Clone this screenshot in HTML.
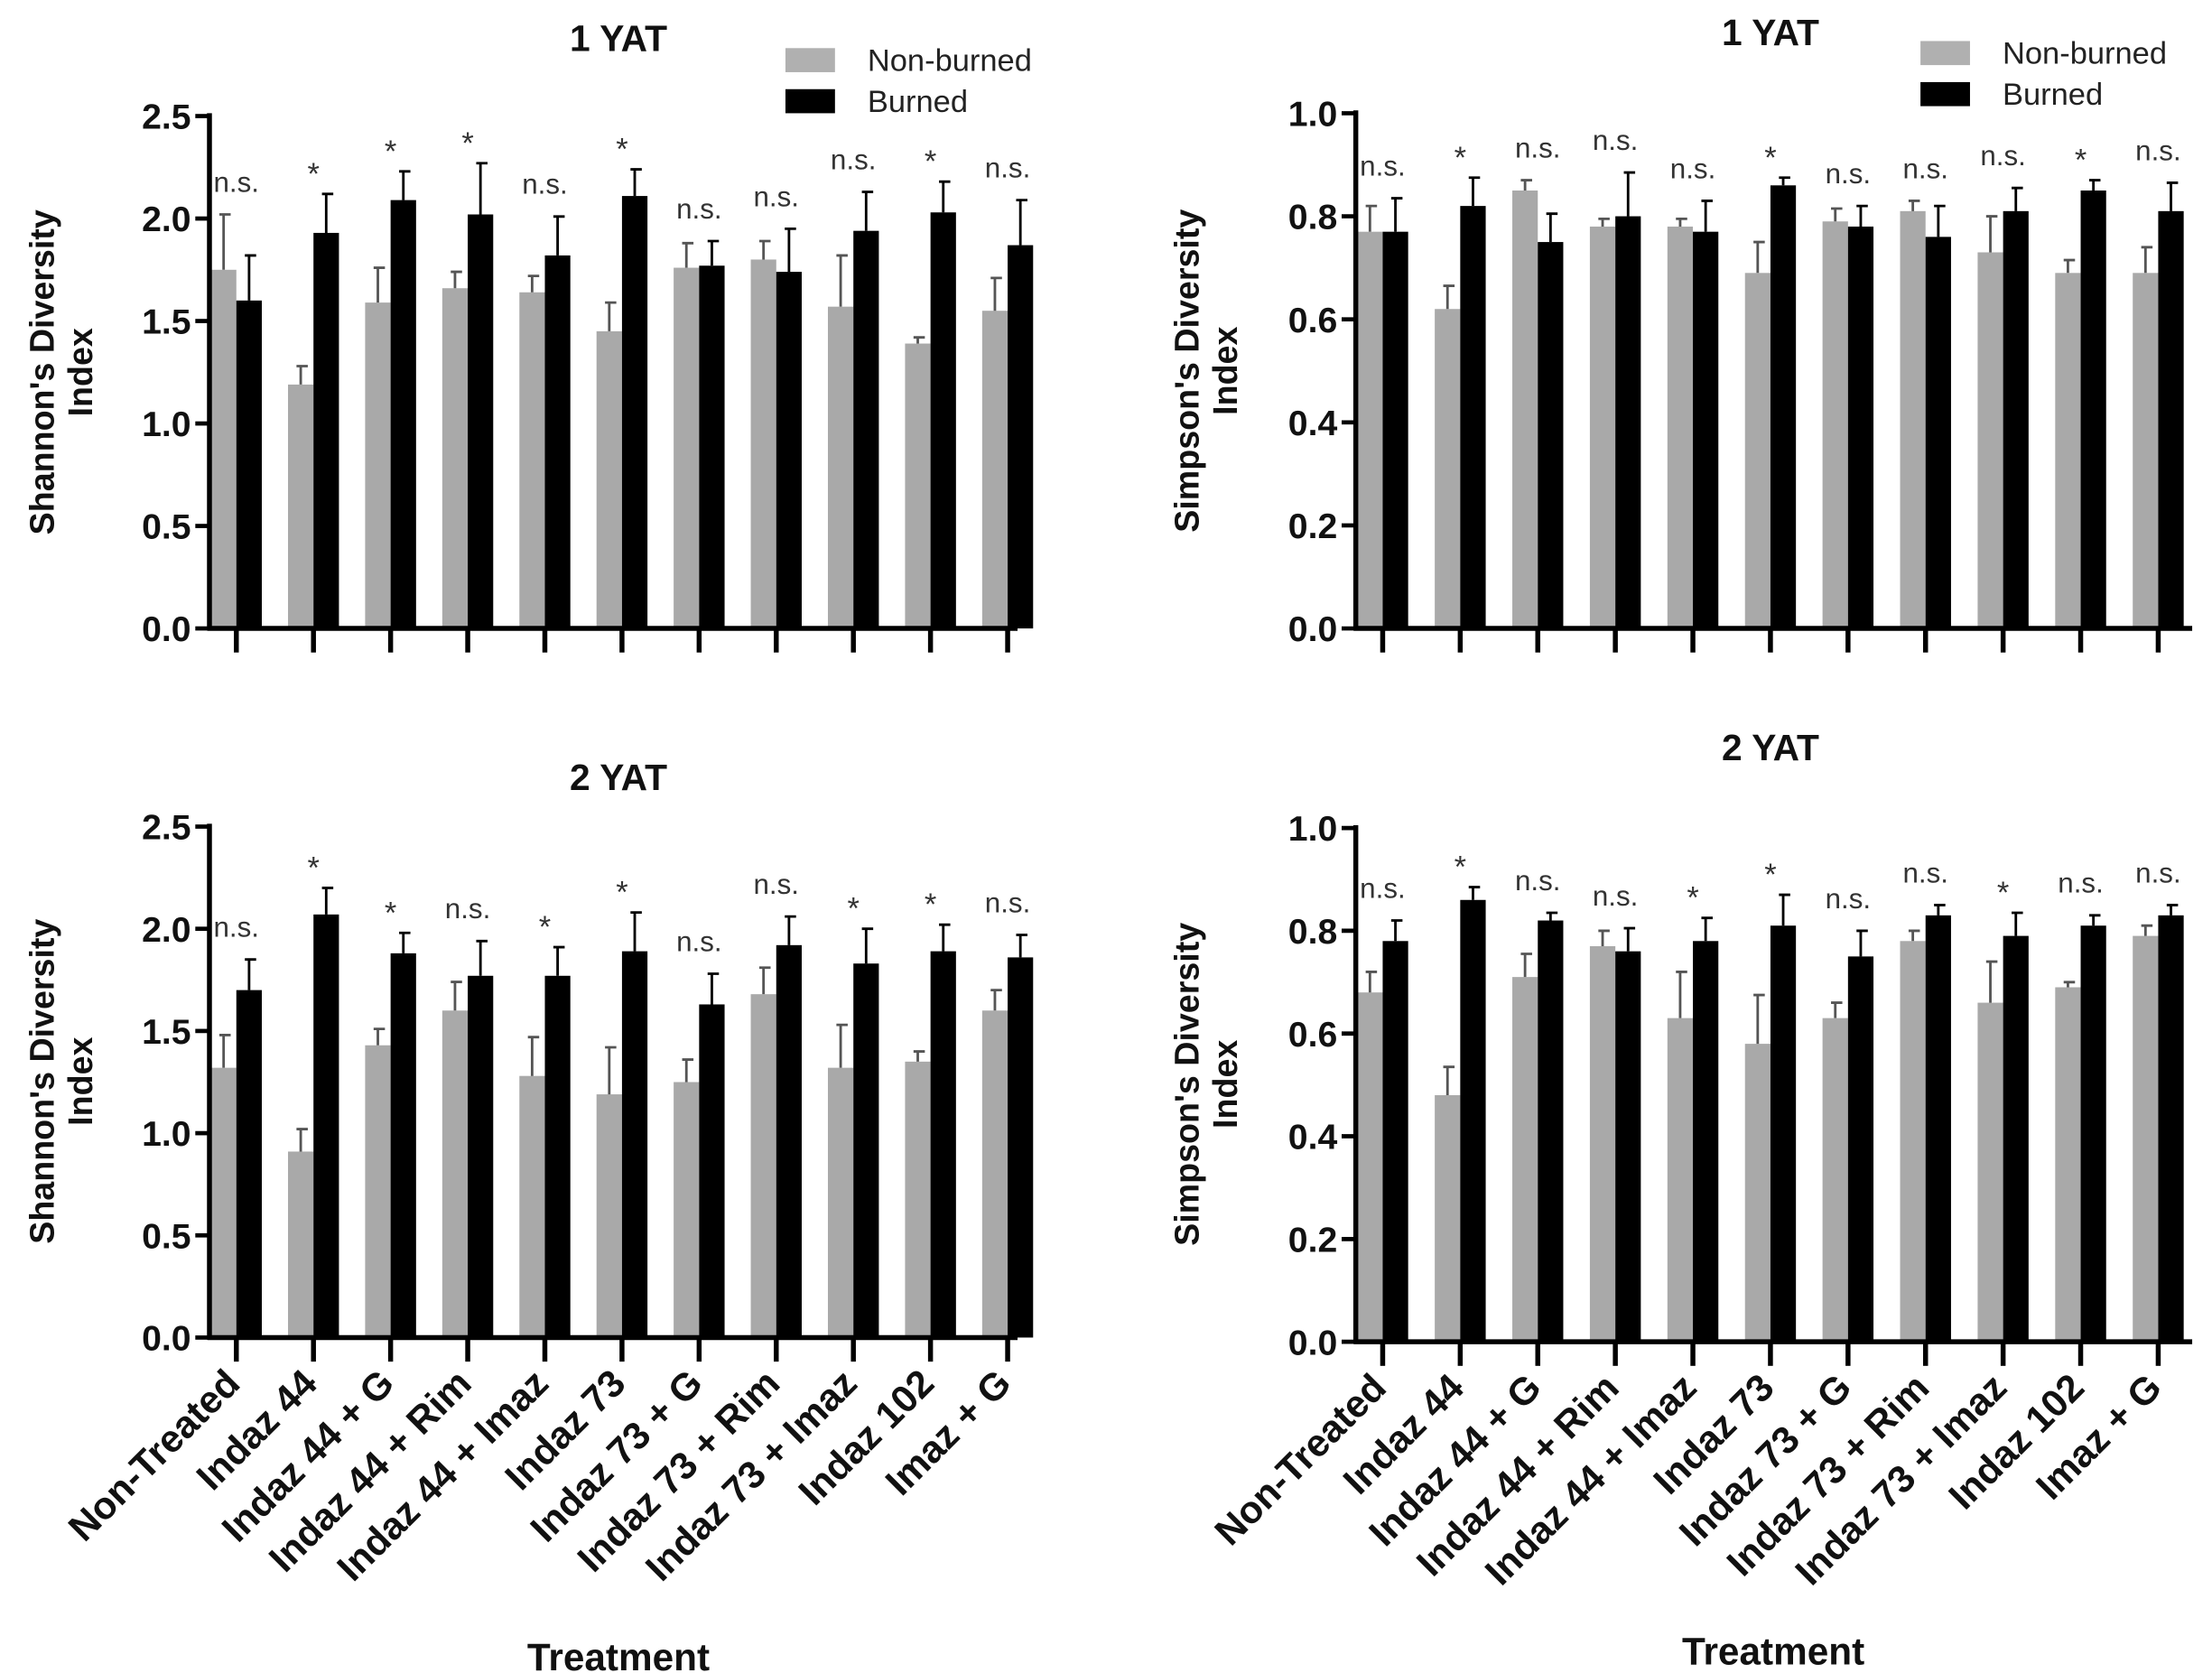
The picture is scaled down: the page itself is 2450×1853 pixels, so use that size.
<!DOCTYPE html>
<html><head><meta charset="utf-8">
<style>
html,body{margin:0;padding:0;background:#fff;}
svg{display:block;}
text{font-family:"Liberation Sans",sans-serif;}
</style></head>
<body>
<svg id="fig" width="2450" height="1853" viewBox="0 0 1563 1182" preserveAspectRatio="none" xmlns="http://www.w3.org/2000/svg"></svg>
<script>
const categories = ["Non-Treated","Indaz 44","Indaz 44 + G","Indaz 44 + Rim","Indaz 44 + Imaz","Indaz 73","Indaz 73 + G","Indaz 73 + Rim","Indaz 73 + Imaz","Indaz 102","Imaz + G"];

const shannon1Non = [1.75,1.19,1.59,1.66,1.64,1.45,1.76,1.80,1.57,1.39,1.55];
const shannon1NonErr = [2.02,1.28,1.76,1.74,1.72,1.59,1.88,1.89,1.82,1.42,1.71];
const shannon1Burn = [1.60,1.93,2.09,2.02,1.82,2.11,1.77,1.74,1.94,2.03,1.87];
const shannon1BurnErr = [1.82,2.12,2.23,2.27,2.01,2.24,1.89,1.95,2.13,2.18,2.09];
const shannon1Sig = ["n.s.","*","*","*","n.s.","*","n.s.","n.s.","n.s.","*","n.s."];

const simpson1Non = [0.77,0.62,0.85,0.78,0.78,0.69,0.79,0.81,0.73,0.69,0.69];
const simpson1NonErr = [0.82,0.665,0.87,0.795,0.795,0.75,0.815,0.83,0.80,0.715,0.74];
const simpson1Burn = [0.77,0.82,0.75,0.80,0.77,0.86,0.78,0.76,0.81,0.85,0.81];
const simpson1BurnErr = [0.835,0.875,0.805,0.885,0.83,0.875,0.82,0.82,0.855,0.87,0.865];
const simpson1Sig = ["n.s.","*","n.s.","n.s.","n.s.","*","n.s.","n.s.","n.s.","*","n.s."];

const shannon2Non = [1.32,0.91,1.43,1.60,1.28,1.19,1.25,1.68,1.32,1.35,1.60];
const shannon2NonErr = [1.48,1.02,1.51,1.74,1.47,1.42,1.36,1.81,1.53,1.40,1.70];
const shannon2Burn = [1.70,2.07,1.88,1.77,1.77,1.89,1.63,1.92,1.83,1.89,1.86];
const shannon2BurnErr = [1.85,2.20,1.98,1.94,1.91,2.08,1.78,2.06,2.00,2.02,1.97];
const shannon2Sig = ["n.s.","*","*","n.s.","*","*","n.s.","n.s.","*","*","n.s."];

const simpson2Non = [0.68,0.48,0.71,0.77,0.63,0.58,0.63,0.78,0.66,0.69,0.79];
const simpson2NonErr = [0.72,0.535,0.755,0.80,0.72,0.675,0.66,0.80,0.74,0.70,0.81];
const simpson2Burn = [0.78,0.86,0.82,0.76,0.78,0.81,0.75,0.83,0.79,0.81,0.83];
const simpson2BurnErr = [0.82,0.885,0.835,0.805,0.825,0.87,0.80,0.85,0.835,0.83,0.85];
const simpson2Sig = ["n.s.","*","n.s.","n.s.","*","*","n.s.","n.s.","*","n.s.","n.s."];

const shannonTicks = ["0.0","0.5","1.0","1.5","2.0","2.5"];
const simpsonTicks = ["0.0","0.2","0.4","0.6","0.8","1.0"];

const NS = "http://www.w3.org/2000/svg";
const svg = document.getElementById('fig');
function mk(tag, attrs, parent, txt){
  const e = document.createElementNS(NS, tag);
  for (const k in attrs) e.setAttribute(k, attrs[k]);
  if (txt !== undefined) e.textContent = txt;
  (parent||svg).appendChild(e);
  return e;
}

function panel(cfg){
  const g = mk('g', {});
  
  
  const ticks = cfg.ticks;
  const maxV = parseFloat(ticks[ticks.length-1]);
  const y = v => cfg.y0 - (v/maxV)*(cfg.y0-cfg.yTop);
  const xc = i => cfg.x0 + i*cfg.dx;
  const bw = 18;
  for (let i=0;i<categories.length;i++){
    const r1 = mk('rect',{x:xc(i)-bw,y:y(cfg.non[i]),width:bw,height:cfg.y0-y(cfg.non[i]),fill:'#a9a9a9'},g);
    
    
    const r2 = mk('rect',{x:xc(i),y:y(cfg.burn[i]),width:bw,height:cfg.y0-y(cfg.burn[i]),fill:'#000'},g);
    
    
    const pairs = [[xc(i)-bw/2,cfg.non[i],cfg.nonErr[i],'#555'],[xc(i)+bw/2,cfg.burn[i],cfg.burnErr[i],'#000']];
    for (const [cx,v,e,col] of pairs){
      const l = mk('path',{d:`M${cx} ${y(v)}V${y(e)}M${cx-3} ${y(e)}H${cx+5}`,stroke:col,'stroke-width':1.8,fill:'none'},g);
      
      
    }
    const top = Math.max(cfg.nonErr[i],cfg.burnErr[i]);
    const isStar = cfg.sig[i]==='*';
    const t = mk('text',{x:xc(i),y:y(top)-(isStar?14:16),'text-anchor':'middle','font-size':isStar?22:20,fill:'#333'},g,cfg.sig[i]);
    if(isStar) t.setAttribute('dy','7');
    
    
    mk('line',{x1:xc(i),y1:cfg.y0,x2:xc(i),y2:cfg.y0+17,stroke:'#000','stroke-width':3.5},g);
    if (cfg.xlabels){
      const lt = mk('text',{x:0,y:0,transform:`translate(${xc(i)+4},${cfg.y0+34}) rotate(-45)`,'text-anchor':'end','font-size':27,'font-weight':'bold',fill:'#111'},g,categories[i]);
      
      
    }
  }
  mk('line',{x1:cfg.axX,y1:cfg.yTop-2,x2:cfg.axX,y2:cfg.y0+1.5,stroke:'#000','stroke-width':3.5},g);
  mk('line',{x1:cfg.axX-1.5,y1:cfg.y0,x2:cfg.xEnd,y2:cfg.y0,stroke:'#000','stroke-width':3.5},g);
  for (const tl of ticks){
    const v = parseFloat(tl);
    mk('line',{x1:cfg.axX-10,y1:y(v),x2:cfg.axX,y2:y(v),stroke:'#000','stroke-width':3},g);
    const tt = mk('text',{x:cfg.axX-13,y:y(v)+9,'text-anchor':'end','font-size':25,'font-weight':'bold',fill:'#111'},g,tl);
    
    
  }
  const ti = mk('text',{x:cfg.titleX,y:cfg.titleY,'text-anchor':'middle','font-size':26,'font-weight':'bold',fill:'#111'},g,cfg.title);
  
  
  const yl = mk('text',{transform:`translate(${cfg.ylX},${cfg.ylY}) rotate(-90)`,'text-anchor':'middle','font-size':24,'font-weight':'bold',fill:'#111'},g);
  
  
  mk('tspan',{x:0,dy:0},yl,cfg.ylabel);
  mk('tspan',{x:0,dy:27},yl,'Index');
  if (cfg.legend){
    const lg = mk('g',{},g);
    
    
    const [lx,ly] = cfg.legend;
    mk('rect',{x:lx,y:ly-8,width:35,height:17,fill:'#b0b0b0'},lg);
    mk('text',{x:lx+58,y:ly+8,'font-size':22,fill:'#222'},lg,'Non-burned');
    mk('rect',{x:lx,y:ly+21,width:35,height:17,fill:'#000'},lg);
    mk('text',{x:lx+58,y:ly+37,'font-size':22,fill:'#222'},lg,'Burned');
  }
  if (cfg.xtitle){
    const xt = mk('text',{x:cfg.xtitle[0],y:cfg.xtitle[1],'text-anchor':'middle','font-size':27,'font-weight':'bold',fill:'#111'},g,'Treatment');
    
    
  }
}

panel({name:'shannon-1yat-chart',ticks:shannonTicks,non:shannon1Non,nonErr:shannon1NonErr,burn:shannon1Burn,burnErr:shannon1BurnErr,sig:shannon1Sig,
  axX:148,y0:444,yTop:82,x0:167,dx:54.5,xEnd:719,title:'1 YAT',titleX:437,titleY:36,ylX:38,ylY:263,ylabel:"Shannon's Diversity",legend:[555,42]});
panel({name:'simpson-1yat-chart',ticks:simpsonTicks,non:simpson1Non,nonErr:simpson1NonErr,burn:simpson1Burn,burnErr:simpson1BurnErr,sig:simpson1Sig,
  axX:958,y0:444,yTop:80,x0:977,dx:54.8,xEnd:1549,title:'1 YAT',titleX:1251,titleY:32,ylX:847,ylY:262,ylabel:"Simpson's Diversity",legend:[1357,37]});
panel({name:'shannon-2yat-chart',ticks:shannonTicks,non:shannon2Non,nonErr:shannon2NonErr,burn:shannon2Burn,burnErr:shannon2BurnErr,sig:shannon2Sig,
  axX:148,y0:945,yTop:584,x0:167,dx:54.5,xEnd:719,title:'2 YAT',titleX:437,titleY:558,ylX:38,ylY:764,ylabel:"Shannon's Diversity",xlabels:true,xtitle:[437,1180]});
panel({name:'simpson-2yat-chart',ticks:simpsonTicks,non:simpson2Non,nonErr:simpson2NonErr,burn:simpson2Burn,burnErr:simpson2BurnErr,sig:simpson2Sig,
  axX:958,y0:948,yTop:585,x0:977,dx:54.8,xEnd:1549,title:'2 YAT',titleX:1251,titleY:537,ylX:847,ylY:766,ylabel:"Simpson's Diversity",xlabels:true,xtitle:[1253,1176]});
</script>
</body></html>
